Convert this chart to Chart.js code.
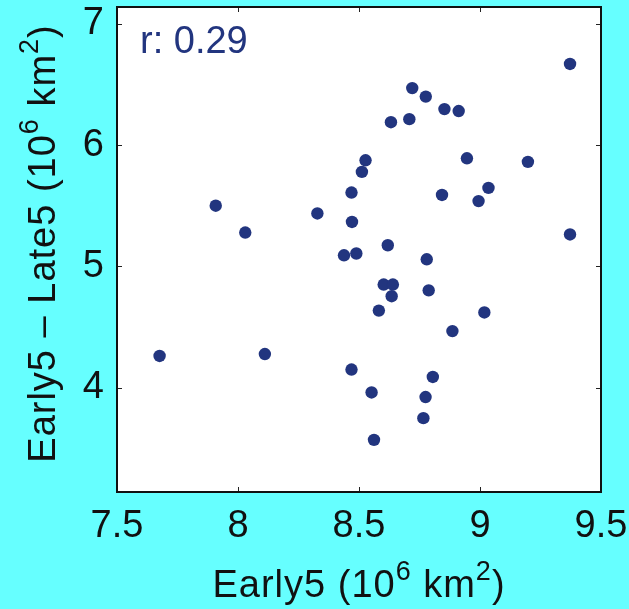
<!DOCTYPE html>
<html>
<head>
<meta charset="utf-8">
<script src="https://cdn.jsdelivr.net/npm/chart.js@4"></script>
<style>
  html, body { margin: 0; padding: 0; background: #66ffff; }
  #wrap { width: 629px; height: 609px; }
</style>
</head>
<body>
<div id="wrap"><canvas id="c" width="629" height="609"></canvas></div>
<script>
// values
const early5 = [7.676, 7.908, 8.030, 8.111, 8.328, 8.438, 8.489, 8.469, 8.471, 8.469,
                8.512, 8.527, 8.552, 8.562, 8.582, 8.602, 8.640, 8.635, 8.619, 8.632,
                8.708, 8.720, 8.776, 8.853, 8.912, 8.946, 8.843, 8.994, 9.035, 9.198,
                9.372, 9.372, 8.780, 8.788, 9.018, 8.886, 8.805, 8.775, 8.766];
const diff5  = [4.262, 5.501, 5.280, 4.278, 5.437, 5.092, 5.107, 5.610, 5.367, 4.150,
                5.780, 5.876, 3.961, 3.570, 4.636, 4.851, 4.851, 4.755, 5.175, 6.190,
                6.215, 6.471, 6.401, 6.298, 6.282, 5.892, 5.590, 5.539, 5.648, 5.863,
                6.670, 5.264, 5.059, 4.803, 4.621, 4.467, 4.089, 3.923, 3.749];
const xTicks = [7.5, 8, 8.5, 9, 9.5];
const yTicks = [4, 5, 6, 7];
const rText  = 'r: 0.29';
const xTitle = [['Early5 (10'], ['6', 1], [' km'], ['2', 1], [')']];
const yTitle = [['Early5 \u2013 Late5 (10'], ['6', 1], [' km'], ['2', 1], [')']];

const NAVY = '#22357f';
const FONT = '"Liberation Sans", Arial, sans-serif';

// draws a title made of plain and superscript pieces, centred on 0,0
function drawParts(ctx, parts) {
  const big = '38px ' + FONT, small = '27px ' + FONT;
  ctx.letterSpacing = '1px';
  let w = 0;
  parts.forEach(p => { ctx.font = p[1] ? small : big; w += ctx.measureText(p[0]).width; });
  let x = -w / 2;
  parts.forEach(p => {
    ctx.font = p[1] ? small : big;
    ctx.fillText(p[0], x, p[1] ? -17 : 0);
    x += ctx.measureText(p[0]).width;
  });
}

const framePlugin = {
  id: 'frame',
  beforeDraw(chart) {
    const { ctx, chartArea: a } = chart;
    ctx.save();
    ctx.fillStyle = '#ffffff';
    ctx.fillRect(a.left, a.top, a.right - a.left, a.bottom - a.top);
    ctx.restore();
  },
  afterDraw(chart) {
    const { ctx, chartArea: a, scales } = chart;
    ctx.save();
    // inner tick marks on all four sides
    ctx.strokeStyle = '#222';
    ctx.lineWidth = 1;
    ctx.beginPath();
    scales.x.ticks.forEach(t => {
      const px = Math.round(scales.x.getPixelForValue(t.value)) + 0.5;
      ctx.moveTo(px, a.bottom); ctx.lineTo(px, a.bottom - 5);
      ctx.moveTo(px, a.top); ctx.lineTo(px, a.top + 5);
    });
    scales.y.ticks.forEach(t => {
      const py = Math.round(scales.y.getPixelForValue(t.value)) + 0.5;
      ctx.moveTo(a.left, py); ctx.lineTo(a.left + 5, py);
      ctx.moveTo(a.right, py); ctx.lineTo(a.right - 5, py);
    });
    ctx.stroke();
    // box
    ctx.strokeStyle = '#111';
    ctx.lineWidth = 2;
    ctx.strokeRect(a.left, a.top, a.right - a.left, a.bottom - a.top);

    // r label
    ctx.fillStyle = NAVY;
    ctx.font = '38px ' + FONT;
    ctx.textBaseline = 'alphabetic';
    ctx.textAlign = 'left';
    ctx.fillText(rText, a.left + 23, a.top + 46);

    // axis titles
    ctx.fillStyle = '#111';
    ctx.save();
    ctx.translate((a.left + a.right) / 2, 597);
    drawParts(ctx, xTitle);
    ctx.restore();
    ctx.save();
    ctx.translate(55, (a.top + a.bottom) / 2 - 6);
    ctx.rotate(-Math.PI / 2);
    drawParts(ctx, yTitle);
    ctx.restore();
    ctx.restore();
  }
};

new Chart(document.getElementById('c'), {
  type: 'scatter',
  data: {
    datasets: [{
      data: early5.map((x, i) => ({ x, y: diff5[i] })),
      backgroundColor: NAVY,
      borderWidth: 0,
      pointRadius: 6.2,
      pointHoverRadius: 6.2,
    }],
  },
  options: {
    responsive: false,
    animation: false,
    layout: { padding: { top: 7, right: 28, left: 0, bottom: 0 } },
    plugins: { legend: { display: false }, tooltip: { enabled: false } },
    scales: {
      x: {
        type: 'linear',
        min: 7.5, max: 9.5,
        afterBuildTicks: s => { s.ticks = xTicks.map(v => ({ value: v })); },
        afterFit: s => { s.height = 117; s.paddingLeft = 0; s.paddingRight = 0; },
        grid: { display: false, drawTicks: false },
        border: { display: false },
        ticks: { color: '#111', padding: 12, font: { family: FONT, size: 38 }, maxRotation: 0,
                 callback: v => String(v) },
      },
      y: {
        type: 'linear',
        min: 3.14, max: 7.14,
        afterBuildTicks: s => { s.ticks = yTicks.map(v => ({ value: v })); },
        afterFit: s => { s.width = 117; s.paddingTop = 0; s.paddingBottom = 0; },
        grid: { display: false, drawTicks: false },
        border: { display: false },
        ticks: { color: '#111', padding: 13, font: { family: FONT, size: 38 },
                 callback: v => String(v) },
      },
    },
  },
  plugins: [framePlugin],
});
</script>
</body>
</html>
